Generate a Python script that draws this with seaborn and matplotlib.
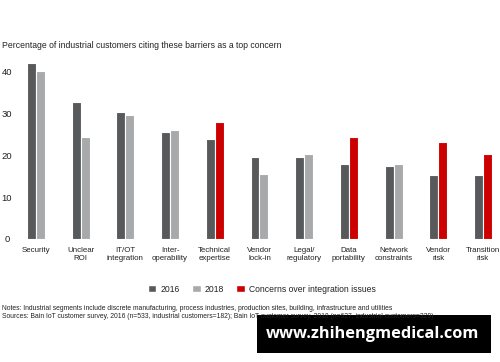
import matplotlib
matplotlib.use("Agg")
import matplotlib.pyplot as plt
import seaborn as sns
import pandas as pd
from matplotlib.patches import Patch, Rectangle

categories = ["Security", "Unclear\nROI", "IT/OT\nintegration", "Inter-\noperability",
              "Technical\nexpertise", "Vendor\nlock-in", "Legal/\nregulatory", "Data\nportability",
              "Network\nconstraints", "Vendor\nrisk", "Transition\nrisk"]
values_2016 = [42.1, 32.7, 30.5, 25.5, 24.0, 19.6, 19.6, 17.9, 17.4, 15.2, 15.2]
values_2018 = [40.3, 24.5, 29.6, 26.0, 27.9, 15.5, 20.4, 24.3, 18.0, 23.2, 20.3]
integration_concern = [False, False, False, False, True, False, False, True, False, True, True]
yticks = [0, 10, 20, 30, 40]
legend_labels = ["2016", "2018", "Concerns over integration issues"]
title = "Percentage of industrial customers citing these barriers as a top concern"
notes = "Notes: Industrial segments include discrete manufacturing, process industries, production sites, building, infrastructure and utilities"
sources = "Sources: Bain IoT customer survey, 2016 (n=533, industrial customers=182); Bain IoT customer survey, 2018 (n=627, industrial customers=329)"
watermark = "www.zhihengmedical.com"

C16, C18, CRED = "#58595b", "#a7a9ac", "#cc0000"

sns.set_theme(style="white")
plt.rcParams['font.family'] = ['Liberation Sans', 'DejaVu Sans']

df = pd.DataFrame({
    "category": categories * 2,
    "series": ["2016"] * len(categories) + ["2018"] * len(categories),
    "value": values_2016 + values_2018,
})

fig = plt.figure(figsize=(5, 3.62), dpi=100)
ax = fig.add_axes([20/500, (362-239)/362, (498-20)/500, 188/362])
sns.barplot(data=df, x="category", y="value", hue="series", order=categories,
            hue_order=["2016", "2018"], palette=[C16, C18], width=0.4, gap=0,
            edgecolor="white", linewidth=0.8,
            legend=False, ax=ax, errorbar=None)

n = len(categories)
second = ax.patches[n:2*n]
for i, b in enumerate(second):
    if integration_concern[i]:
        b.set_facecolor(CRED)

ax.set_xlim(-0.358, 10.336)
ax.set_ylim(0, 45)
ax.set_yticks(yticks)
ax.set_xlabel("")
ax.set_ylabel("")
sns.despine(ax=ax, left=True, bottom=True)
ax.tick_params(axis="y", length=0, pad=9.4, labelsize=6.8, labelcolor="#222222")
for lab in ax.get_yticklabels():
    lab.set_horizontalalignment("center")
ax.tick_params(axis="x", length=0, pad=5.5, labelsize=5.7, labelcolor="#222222")
for lab in ax.get_xticklabels():
    lab.set_linespacing(1.25)

fig.text(2/500, 1 - 45/362, title, fontsize=6.2, color="#222222", va="center", ha="left")

handles = [Patch(facecolor=C16), Patch(facecolor=C18), Patch(facecolor=CRED)]
fig.legend(handles, legend_labels, loc="center", bbox_to_anchor=(262/500, 1 - 289/362),
           ncol=3, frameon=False, fontsize=6.2, handlelength=1.0, handleheight=1.0,
           handletextpad=0.5, columnspacing=1.4, labelcolor="#222222")

fig.text(2/500, 1 - 308/362, notes, fontsize=4.85, color="#222222", va="center", ha="left")
fig.text(2/500, 1 - 317/362, sources, fontsize=4.85, color="#222222", va="center", ha="left")

fig.add_artist(Rectangle((257/500, 1 - 353/362), (491-257)/500, (353-315)/362,
                         transform=fig.transFigure, facecolor="black", edgecolor="none"))
fig.text(373/500, 1 - 334/362, watermark, fontsize=11.8, fontweight="bold", color="white",
         va="center", ha="center", family=["Open Sans", "DejaVu Sans"])

fig.savefig("out.png", dpi=100)
